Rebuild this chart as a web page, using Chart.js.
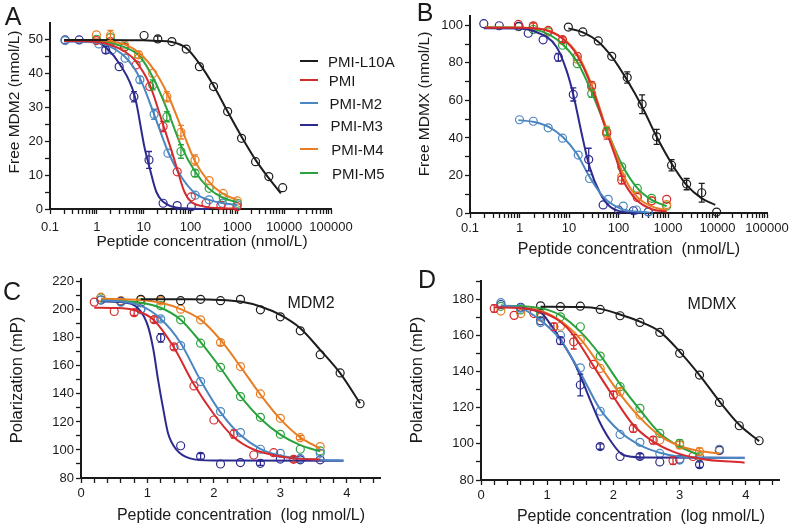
<!DOCTYPE html>
<html>
<head>
<meta charset="utf-8">
<script src="https://cdn.jsdelivr.net/npm/chart.js@4.4.1/dist/chart.umd.min.js"></script>
<style>
  body { margin: 0; background: #fff; width: 790px; height: 526px; position: relative; overflow: hidden;
         font-family: 'Liberation Sans', Arial, sans-serif; color: #1a1a1a; }
  canvas { position: absolute; }
  .t { position: absolute; white-space: pre; line-height: 1; transform: translate(-50%, -50%); }
  .yt { position: absolute; white-space: pre; line-height: 1; transform: translate(-50%, -50%) rotate(-90deg); }
  .lg { position: absolute; white-space: pre; line-height: 1; font-size: 15px; transform: translateY(-50%); }
  .ll { position: absolute; height: 2px; width: 18px; }
</style>
</head>
<body>
<canvas id="cA" width="395" height="245" style="left:0;top:0"></canvas>
<canvas id="cB" width="395" height="245" style="left:395px;top:0"></canvas>
<canvas id="cC" width="395" height="281" style="left:0;top:245px"></canvas>
<canvas id="cD" width="395" height="281" style="left:395px;top:245px"></canvas>

<div class="t" style="left:13px;top:16px;font-size:25px">A</div>
<div class="t" style="left:425px;top:12px;font-size:25px">B</div>
<div class="t" style="left:12px;top:291px;font-size:25px">C</div>
<div class="t" style="left:427px;top:279px;font-size:25px">D</div>

<div class="yt" style="left:14px;top:102px;font-size:15.5px">Free MDM2 (nmol/L)</div>
<div class="t" style="left:202px;top:241px;font-size:15.5px">Peptide concentration (nmol/L)</div>
<div class="yt" style="left:424px;top:104px;font-size:15.5px">Free MDMX (nmol/L)</div>
<div class="t" style="left:629px;top:249px;font-size:16px">Peptide concentration  (nmol/L)</div>
<div class="yt" style="left:16px;top:380px;font-size:16.5px">Polarization (mP)</div>
<div class="t" style="left:241px;top:515px;font-size:16px">Peptide concentration  (log nmol/L)</div>
<div class="yt" style="left:416px;top:380px;font-size:16.5px">Polarization (mP)</div>
<div class="t" style="left:641px;top:516px;font-size:16px">Peptide concentration  (log nmol/L)</div>
<div class="t" style="left:311px;top:303px;font-size:16px">MDM2</div>
<div class="t" style="left:712px;top:304px;font-size:16px">MDMX</div>

<div id="legend"></div>

<script>
// series
const seriesNames = ['PMI-L10A', 'PMI', 'PMI-M2', 'PMI-M3', 'PMI-M4', 'PMI-M5'];
const seriesColors = ['#1c1c1c', '#d52b2e', '#4a86c1', '#2d2a8e', '#e97d23', '#2aa33c'];

// tick labels
const logTickLabels = ['0.1', '1', '10', '100', '1000', '10000', '100000'];
const aYLabels = [0, 10, 20, 30, 40, 50];
const bYLabels = [0, 20, 40, 60, 80, 100];
const cYLabels = [80, 100, 120, 140, 160, 180, 200, 220];
const dYLabels = [80, 100, 120, 140, 160, 180];
const logXLabels = [0, 1, 2, 3, 4];

// ---- panel A: free MDM2, [conc, value, sd] ----
const aPts_L10A = [[10.2,51.3],[20,50.3,0.8],[40,49.5],[81,47.3],[155,42.1],[310,36.2],[620,28.8],[1230,20.9],[2450,14.0],[4700,9.6],[9300,6.3]];
const aPts_PMI = [[0.98,49.8],[1.95,49.5],[3.9,47.8],[6.9,42.6],[13.5,36.2],[26,24.4,1.5],[52,11.0],[104,3.6],[214,1.7],[445,1.0],[980,0.7]];
const aPts_M2 = [[0.21,49.8],[1.1,48.8],[2.1,47.0],[4,44.6],[8.3,38.2,1],[16.7,28,1.5],[33,16.5],[126,4.1],[250,2.7],[480,1.7],[1000,1.2]];
const aPts_M3 = [[0.21,50],[0.42,50],[1.55,47,1],[3,42.1],[6.2,33.2,1.5],[13,14.5,2.5],[26,1.7],[52,1.0],[104,0.7]];
const aPts_M4 = [[0.98,51.5],[1.95,51.3,1.5],[3.9,48.5],[7.8,45.6,1],[15.6,40.1],[31.25,33.2,1.5],[62.5,22.7,2],[125,14.5,1.5],[250,8.4],[500,4.6],[1000,2.4]];
const aPts_M5 = [[0.98,50.2],[1.95,50.7],[3.9,48],[7.8,44.6],[15.6,36.7,1.5],[31.25,27.3,1.5],[62.5,17,2],[125,10.6,1],[250,6.1],[500,3.4],[1000,1.7]];

const aFit_L10A = [[0.2,50],[1,50],[10,49.9],[20,49.7],[40,49.4],[81,47.6],[155,43],[310,36.5],[620,28.8],[1230,21.4],[2600,14],[4700,9.1],[8500,4.6]];
const aFit_PMI = [[0.2,49.7],[1,49.4],[2,48.5],[4,46.5],[6.5,44],[13.5,36.7],[26,24.9],[42,16],[54,11],[74,5.1],[102,2.2],[200,0.7],[525,0.2],[1000,0.1]];
const aFit_M2 = [[0.2,49.6],[1,49.2],[1.5,48.7],[4,45],[8.3,38.7],[16.7,28],[33,17],[63,9.6],[126,4.6],[250,2.7],[500,1.7],[1000,1.2]];
const aFit_M3 = [[0.2,49.6],[1,49.3],[1.6,47.6],[3.1,42.8],[6.5,33.2],[10.5,18],[13.5,12],[18.6,5.1],[33,1.2],[74,0.2],[250,0]];
const aFit_M4 = [[0.2,50],[1,49.9],[4,48.6],[8.3,46],[16.7,41.1],[33,33.7],[62,24.4],[126,14],[245,8.1],[480,4.6],[980,2.7]];
const aFit_M5 = [[0.2,49.9],[1,49.7],[4,47.8],[8.3,45.1],[16.7,38.2],[33,28.8],[62,18.9],[126,11],[245,6.1],[480,3.4],[980,2]];

// ---- panel B: free MDMX ----
const bPts_L10A = [[9.7,99.1],[19,96.5],[39,91.7],[73,83.5],[150,72.2,3],[300,58,5],[590,40.6,4],[1180,25.5,3],[2380,15.4,3],[4800,10.8,5],[9600,0.5]];
const bPts_PMI = [[0.95,100.5],[1.9,99.8,1.5],[3.8,97.3],[7.4,92.4,1.5],[14.7,83.5],[28.7,68,2],[57.7,42.4,3],[116,17.6,2],[240,8.3],[467,6.5],[940,7.3]];
const bPts_M2 = [[1,49.7],[1.9,48.9],[3.8,45.4],[7.4,39.9],[15.4,30.9],[26,18.4],[62,7.3],[125,3.7],[230,1.6],[400,0.5]];
const bPts_M3 = [[0.19,100.9],[0.39,99.8],[0.98,99.5],[1.5,95.8],[3,92.3],[6.1,83,2],[12.2,63.2,3.5],[25,28.5,6],[49,4.3],[100,1.6],[200,1.2],[400,0.7]];
const bPts_M4 = [[0.95,99.5],[1.9,99.2],[3.8,97],[7.4,92],[14.7,82],[28.7,67.2,2],[57.7,43.3,3],[116,19.3],[240,9],[467,6.5],[940,4.5]];
const bPts_M5 = [[0.95,99.3],[1.9,97.8],[3.8,96.5],[7.4,89.4],[14.7,79.6],[28.7,63.7,2],[57.7,43.5,2],[116,24.6],[240,13.1],[467,7.8],[940,3.7]];

const bFit_L10A = [[9.7,98.4],[19,96.3],[39,91.3],[73,83.3],[150,70.7],[300,56.6],[590,40.6],[1180,26.4],[2380,14.9],[4800,7.8],[9000,4.3]];
const bFit_PMI = [[0.2,98.8],[1,98.7],[3,97.8],[7.4,93],[14.7,84],[29,67],[58,43],[92,28],[124,17.6],[233,6.9],[470,2],[940,0.7]];
const bFit_M2 = [[0.95,49.5],[2,48.5],[3.8,46],[7.4,40.6],[14.3,31.7],[26,19.3],[49,8.7],[107,2.5],[435,0.2]];
const bFit_M3 = [[0.19,98.5],[1,98.4],[1.9,97],[5.6,88.5],[8.9,76],[12.3,62.8],[18,42.4],[26,24.6],[42.5,10.5],[67,3.4],[125,0.5],[315,0]];
const bFit_M4 = [[0.2,98.9],[1,98.8],[3,98],[7.4,93.2],[14.7,84.8],[29,68],[58,44.5],[92,30.5],[124,20.5],[233,8.9],[470,3.5],[940,1.5]];
const bFit_M5 = [[0.2,99],[1,98.8],[3,96.5],[7.4,90],[14.7,80.5],[28.7,64.5],[57.7,44.5],[116,26],[240,13.3],[467,7],[940,3.6]];

// ---- panel C: polarization, MDM2 (x = log nmol/L) ----
const cPts_L10A = [[0.9,207.5],[1.2,207.5],[1.5,206.5],[1.8,207.5],[2.1,206.5],[2.4,207.5],[2.7,200],[3.0,195],[3.3,185],[3.6,168],[3.9,155],[4.2,133]];
const cPts_PMI = [[0.2,205.5],[0.5,198.8],[0.8,198,2],[1.1,193,2],[1.4,173.5,2],[1.7,145.7],[2.0,121.4],[2.3,111.4,3],[2.6,96.4],[2.9,98.1],[3.2,93.3,2]];
const cPts_M2 = [[0.3,207],[0.6,205.5],[0.9,200],[1.2,193.5,1.5],[1.5,174.5],[1.8,148.8],[2.1,127.4],[2.4,112.4],[2.7,100.5],[3.0,97.6],[3.3,94],[3.6,97.6]];
const cPts_M3 = [[0.3,207],[0.6,206],[0.9,200.5],[1.2,180,3],[1.5,103],[1.8,95.5,2],[2.1,90],[2.4,91],[2.7,90.5,1.5],[3.0,93.5],[3.3,93],[3.6,93]];
const cPts_M4 = [[0.3,209],[0.6,206.5],[0.9,207],[1.2,206.4],[1.5,200.5],[1.8,192.9],[2.1,176.7,2],[2.4,159.5],[2.7,140],[3.0,122.6],[3.3,108.8,1.5],[3.6,102.4]];
const cPts_M5 = [[0.3,208.5],[0.6,206],[0.9,205],[1.2,203],[1.5,192.9],[1.8,176.2],[2.1,159],[2.4,138.1],[2.7,123.3],[3.0,111.2],[3.3,100.5],[3.6,99.3]];

const cFit_L10A = [[0.9,207.6],[1.5,207.5],[2.1,207.1],[2.4,205.9],[2.7,202.4],[3.0,196.4],[3.3,186.9],[3.6,171.4],[3.9,154.8],[4.2,133.3]];
const cFit_PMI = [[0.2,201.5],[0.5,201.3],[0.8,199.8],[1.09,192.9],[1.39,173.8],[1.69,147.6],[1.99,126.2],[2.29,109.5],[2.59,100.5],[2.89,96.4],[3.19,94],[3.6,93.2]];
const cFit_M2 = [[0.3,206.5],[0.6,206],[0.9,203],[1.19,194],[1.49,177],[1.79,150.5],[2.09,127.5],[2.39,111],[2.69,101],[2.99,96],[3.29,94],[3.6,93],[3.95,92.5]];
const cFit_M3 = [[0.3,206],[0.6,205.5],[0.89,199.5],[1.01,188],[1.09,171.4],[1.16,150],[1.24,128.6],[1.31,112],[1.44,100],[1.64,94],[1.99,92.4],[3.95,92.3]];
const cFit_M4 = [[0.3,208],[0.9,207],[1.2,205],[1.5,200.5],[1.8,193],[2.1,178.5],[2.4,159.5],[2.7,139.5],[3.0,122],[3.3,109],[3.6,101]];
const cFit_M5 = [[0.3,207.5],[0.9,205],[1.2,201.5],[1.5,193],[1.8,177],[2.1,158.5],[2.4,138.5],[2.7,122.5],[3.0,111],[3.3,103.5],[3.6,99]];

// ---- panel D: polarization, MDMX ----
const dPts_L10A = [[0.9,176.3],[1.2,175.8],[1.5,176.1],[1.8,174.3],[2.1,170.8],[2.4,167.1],[2.7,161.6],[3.0,150],[3.3,138],[3.6,122.9],[3.9,110],[4.2,101.7]];
const dPts_PMI = [[0.2,174.8,2],[0.5,171],[0.8,172],[1.1,164.7,2],[1.4,156.4,4],[1.7,143.9],[2.0,127,2],[2.3,108.5,2],[2.6,102,2],[2.9,90.7,2],[3.2,93]];
const dPts_M2 = [[0.3,178],[0.6,175],[0.9,167],[1.2,160],[1.5,142],[1.8,118],[2.1,105.2],[2.4,100.8],[2.7,94.7],[3.0,91],[3.6,97]];
const dPts_M3 = [[0.3,177],[0.6,175.5],[0.9,168],[1.2,157,2],[1.5,132.5,6],[1.8,98.5,1.5],[2.1,93],[2.4,93,1.5],[2.7,90],[3.0,91.5],[3.3,88.5,1.5],[3.6,96.5]];
const dPts_M4 = [[0.3,173.4],[0.6,172],[0.9,170],[1.2,165],[1.5,157.7],[1.8,141.7],[2.1,128.8,2],[2.4,115.9],[2.7,102.1],[3.0,99.3,2],[3.3,95.7,2],[3.6,96.2]];
const dPts_M5 = [[0.3,176],[0.6,174],[0.9,172],[1.2,170.2],[1.5,164.7],[1.8,148.5],[2.1,131.6],[2.4,119.6],[2.7,105.8],[3.0,100.3,2],[3.3,92.9]];

const dFit_L10A = [[0.9,175.8],[1.5,175.6],[1.8,174.6],[2.1,171.5],[2.4,167.5],[2.7,162],[3.0,151],[3.3,138],[3.6,123.5],[3.9,110.5],[4.2,101.5]];
const dFit_PMI = [[0.2,175.5],[0.6,175],[0.9,173],[1.2,167.5],[1.4,160],[1.69,143.5],[2.0,126],[2.3,110.4],[2.6,101.2],[2.9,95.7],[3.3,91.8],[3.98,89.6]];
const dFit_M2 = [[0.3,176.5],[0.6,175],[0.89,168.5],[1.19,158],[1.49,140],[1.79,119.6],[2.1,106.7],[2.4,99.3],[2.7,95.1],[3.0,92.9],[3.5,92.3],[3.98,92.2]];
const dFit_M3 = [[0.3,176],[0.9,172.5],[1.05,166],[1.19,158.3],[1.44,142.6],[1.64,125],[1.79,112.2],[1.95,102],[2.15,93.8],[2.45,92.5],[3.98,92.3]];
const dFit_M4 = [[0.3,176],[0.9,173.5],[1.2,168],[1.5,158],[1.8,143],[2.1,127.5],[2.4,114.5],[2.7,104.5],[3.0,98.8],[3.3,96],[3.6,94.7]];
const dFit_M5 = [[0.3,176.5],[0.9,175],[1.2,171],[1.5,162],[1.8,149],[2.1,133],[2.4,118.7],[2.7,105.8],[3.0,98.4],[3.3,93.8]];

// ---- helpers ----
const fontFamily = "'Liberation Sans', Arial, sans-serif";
const ink = '#1a1a1a';

function logTicks() {
  const list = [];
  logTickLabels.forEach((lab, i) => {
    const dec = Math.pow(10, i - 1);
    list.push({ value: dec, label: lab });
    if (i < logTickLabels.length - 1) {
      for (let m = 2; m <= 9; m++) list.push({ value: m * dec, label: '' });
    }
  });
  return list;
}

function linTicks(min, max, step, labels) {
  const list = [];
  for (let v = min; v <= max + 1e-9; v += step) {
    const r = Math.round(v * 10) / 10;
    list.push({ value: r, label: labels.includes(r) ? String(r) : '' });
  }
  return list;
}

function axis(kind, type, min, max, ticks, size, pad) {
  const s = {
    type: type, min: min, max: max,
    afterBuildTicks: sc => { sc.ticks = ticks.map(t => ({ value: t.value })); },
    ticks: { autoSkip: false, maxRotation: 0, padding: pad, color: ink,
             font: { family: fontFamily, size: 13 }, callback: (v, i) => ticks[i] ? ticks[i].label : '' },
    grid: { drawOnChartArea: false, tickLength: 5, tickWidth: 1.3, tickColor: ink },
    border: { color: ink, width: 2 }
  };
  if (kind === 'x') {
    s.afterFit = sc => { sc.height = size; sc.paddingLeft = 0; sc.paddingRight = 0; };
  } else {
    s.afterFit = sc => { sc.width = size; sc.paddingTop = 0; sc.paddingBottom = 0; };
  }
  return s;
}

function curveDs(pts, color) {
  return {
    data: pts.map(p => ({ x: p[0], y: p[1] })),
    showLine: true, borderColor: color, borderWidth: 2, pointRadius: 0,
    cubicInterpolationMode: 'monotone', fill: false, clip: false
  };
}

function pointDs(pts, color) {
  return {
    data: pts.map(p => ({ x: p[0], y: p[1] })),
    errs: pts.map(p => p[2] || 0),
    showLine: false, borderColor: color, backgroundColor: 'rgba(0,0,0,0)',
    pointRadius: 4, pointBorderWidth: 1.2, clip: false
  };
}

// error bars from the sd column, through the chart scales
const errorBars = {
  id: 'errorBars',
  afterDatasetsDraw(chart) {
    const ctx = chart.ctx;
    const xs = chart.scales.x, ys = chart.scales.y;
    chart.data.datasets.forEach(ds => {
      if (!ds.errs) return;
      ctx.save();
      ctx.strokeStyle = ds.borderColor;
      ctx.lineWidth = 1.3;
      ds.data.forEach((p, j) => {
        const e = ds.errs[j];
        if (!e) return;
        const px = xs.getPixelForValue(p.x);
        const y1 = ys.getPixelForValue(p.y + e), y2 = ys.getPixelForValue(p.y - e);
        ctx.beginPath();
        ctx.moveTo(px, y1); ctx.lineTo(px, y2);
        ctx.moveTo(px - 3, y1); ctx.lineTo(px + 3, y1);
        ctx.moveTo(px - 3, y2); ctx.lineTo(px + 3, y2);
        ctx.stroke();
      });
      ctx.restore();
    });
  }
};

function makePanel(id, fits, pts, xAxis, yAxis, pad) {
  const datasets = [];
  fits.forEach((f, i) => datasets.push(curveDs(f, seriesColors[i])));
  pts.forEach((p, i) => datasets.push(pointDs(p, seriesColors[i])));
  return new Chart(document.getElementById(id), {
    type: 'scatter',
    data: { datasets: datasets },
    options: {
      responsive: false, animation: false, events: [],
      layout: { padding: { top: pad.top, right: pad.right, left: 0, bottom: 0 } },
      plugins: { legend: { display: false }, tooltip: { enabled: false } },
      scales: { x: xAxis, y: yAxis }
    },
    plugins: [errorBars]
  });
}

makePanel('cA',
  [aFit_L10A, aFit_PMI, aFit_M2, aFit_M3, aFit_M4, aFit_M5],
  [aPts_L10A, aPts_PMI, aPts_M2, aPts_M3, aPts_M4, aPts_M5],
  axis('x', 'logarithmic', 0.1, 100000, logTicks(), 36, 6),
  axis('y', 'linear', 0, 55, linTicks(0, 50, 5, aYLabels), 50, 2),
  { top: 23, right: 64 });

makePanel('cB',
  [bFit_L10A, bFit_PMI, bFit_M2, bFit_M3, bFit_M4, bFit_M5],
  [bPts_L10A, bPts_PMI, bPts_M2, bPts_M3, bPts_M4, bPts_M5],
  axis('x', 'logarithmic', 0.1, 100000, logTicks(), 32, 3),
  axis('y', 'linear', 0, 105, linTicks(0, 100, 10, bYLabels), 75, 2),
  { top: 16, right: 23 });

makePanel('cC',
  [cFit_L10A, cFit_PMI, cFit_M2, cFit_M3, cFit_M4, cFit_M5],
  [cPts_L10A, cPts_PMI, cPts_M2, cPts_M3, cPts_M4, cPts_M5],
  axis('x', 'linear', 0, 4.5, linTicks(0, 4.4, 0.2, logXLabels), 48, 3),
  axis('y', 'linear', 80, 222, linTicks(80, 220, 10, cYLabels), 81, 2),
  { top: 34, right: 15 });

makePanel('cD',
  [dFit_L10A, dFit_PMI, dFit_M2, dFit_M3, dFit_M4, dFit_M5],
  [dPts_L10A, dPts_PMI, dPts_M2, dPts_M3, dPts_M4, dPts_M5],
  axis('x', 'linear', 0, 4.5, linTicks(0, 4.4, 0.2, logXLabels), 46, 3),
  axis('y', 'linear', 80, 190, linTicks(80, 190, 10, dYLabels), 86, 2),
  { top: 36, right: 11 });

// legend of panel A
const legendRows = [61, 80, 103, 125, 149, 173];
const legend = document.getElementById('legend');
seriesNames.forEach((name, i) => {
  const line = document.createElement('div');
  line.className = 'll';
  line.style.left = '300px';
  line.style.top = (legendRows[i] - 1) + 'px';
  line.style.background = seriesColors[i];
  legend.appendChild(line);
  const txt = document.createElement('div');
  txt.className = 'lg';
  txt.style.left = (328 + i * 0.8) + 'px';
  txt.style.top = legendRows[i] + 'px';
  txt.textContent = name;
  legend.appendChild(txt);
});
</script>
</body>
</html>
